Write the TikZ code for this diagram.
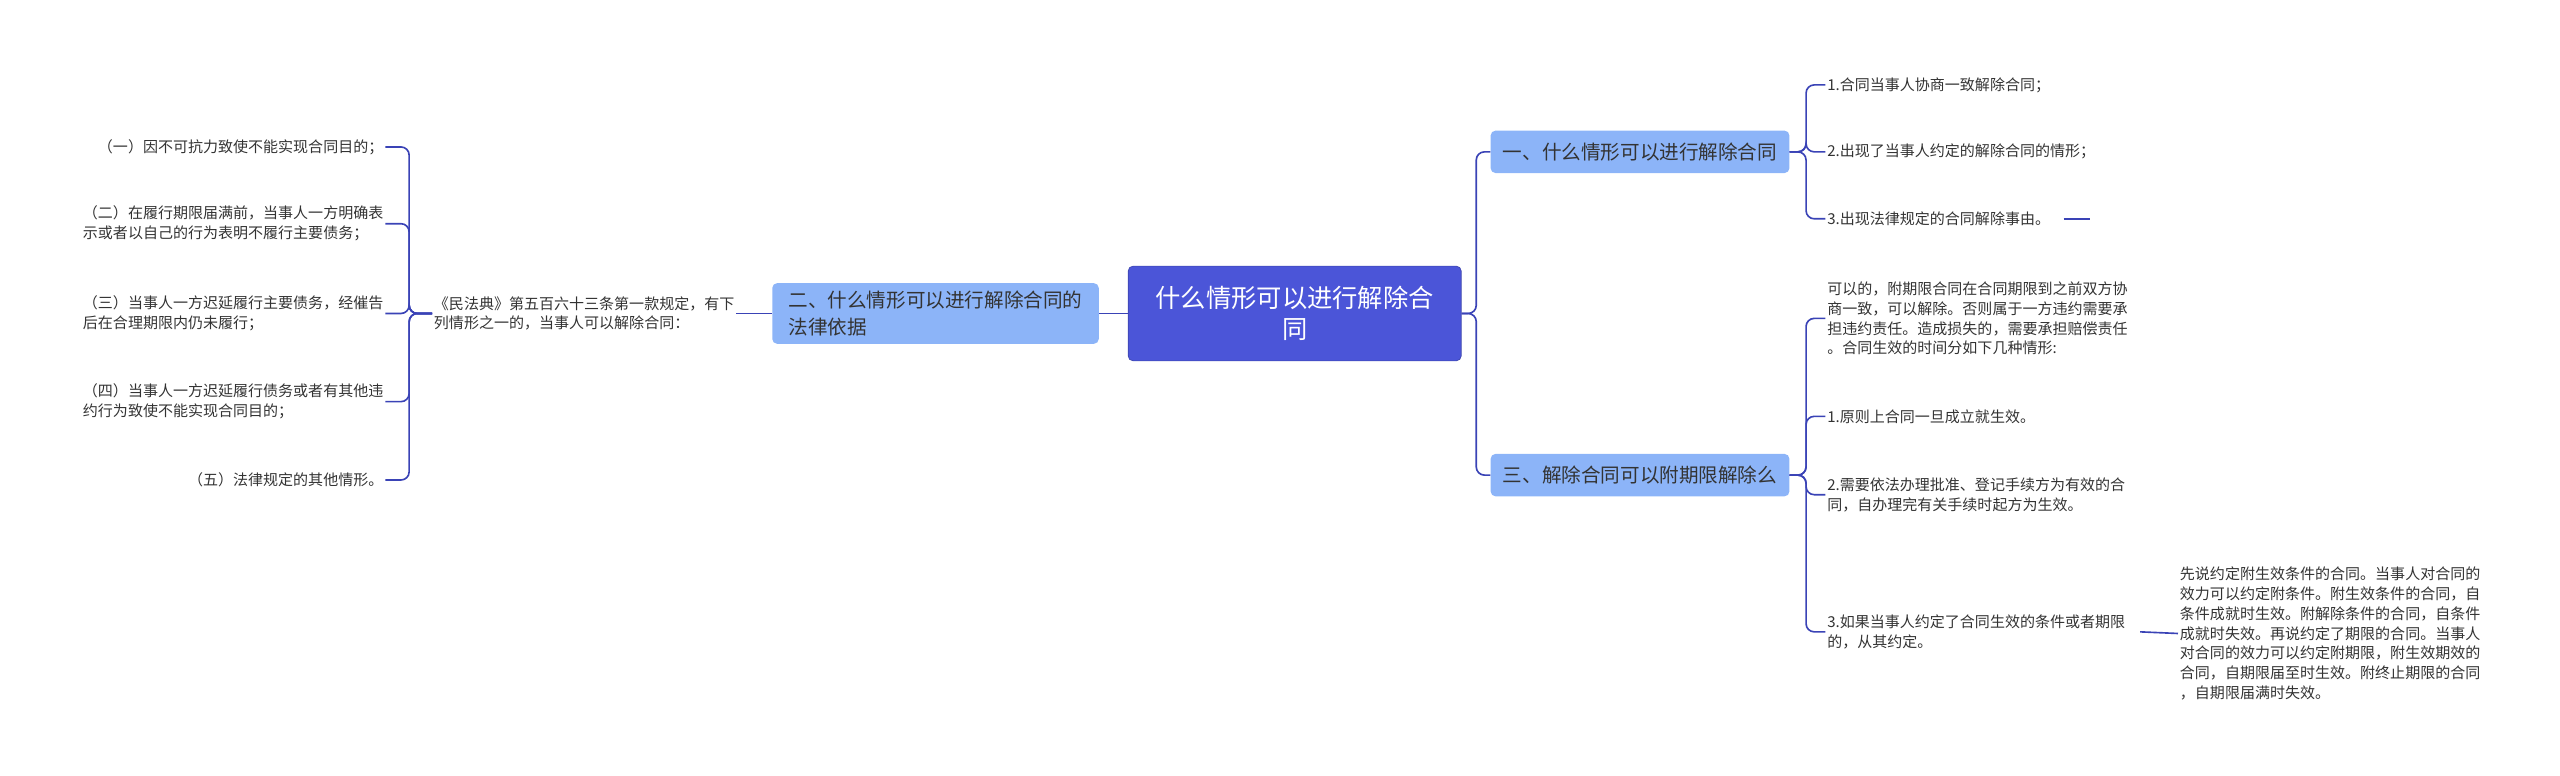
\documentclass[tikz,border=0pt]{standalone}
\usepackage{fontspec}
\setmainfont{Noto Sans CJK SC}
\usepackage{xcolor}
\definecolor{rootc}{HTML}{4B55D8}
\definecolor{branchc}{HTML}{8CB4F8}
\definecolor{linec}{HTML}{3A43B6}
\definecolor{textc}{HTML}{333333}
\tikzset{
  rootbox/.style={fill=rootc, draw=rootc!80!black, rounded corners=3pt, text=white, font=\fontsize{15.5}{19}\selectfont, align=center, minimum width=204pt, minimum height=58pt, inner sep=2pt},
  branchbox/.style={fill=branchc, rounded corners=3pt, text=textc, font=\fontsize{12}{16}\selectfont, align=left, minimum height=26pt, inner sep=5pt},
  leaf/.style={text=textc, font=\fontsize{9.2}{12.2}\selectfont, align=left, inner sep=1pt},
  edge/.style={draw=linec, line width=1pt, rounded corners=5pt}
}
\begin{document}
\begin{tikzpicture}[x=1pt,y=-1pt]
                \useasboundingbox (0,0) rectangle (1568,475);
                \node [rootbox] (root) at (793,192) {什么情形可以进行解除合\\同};
                \node [branchbox, minimum width=183pt] (b1) at (1004.5,93) {一、什么情形可以进行解除合同};
                \node [branchbox, minimum width=200pt] (b2) at (573,192) {二、什么情形可以进行解除合同的\\法律依据};
                \node [branchbox, minimum width=183pt] (b3) at (1004.5,291) {三、解除合同可以附期限解除么};
                % right branch one
                \node [leaf, anchor=west] (r11) at (1118,52) {1.合同当事人协商一致解除合同；};
                \node [leaf, anchor=west] (r12) at (1118,93) {2.出现了当事人约定的解除合同的情形；};
                \node [leaf, anchor=west] (r13) at (1118,134) {3.出现法律规定的合同解除事由。};
                \coordinate (r13a) at (1264,134);
                \coordinate (r13b) at (1280,134);
                % left branch two
                \node [leaf, anchor=east] (l0) at (451,192) {《民法典》第五百六十三条第一款规定，有下\\列情形之一的，当事人可以解除合同：};
                \node [leaf, anchor=east] (l1) at (236,90) {（一）因不可抗力致使不能实现合同目的；};
                \node [leaf, anchor=east] (l2) at (236,137) {（二）在履行期限届满前，当事人一方明确表\\示或者以自己的行为表明不履行主要债务；};
                \node [leaf, anchor=east] (l3) at (236,192) {（三）当事人一方迟延履行主要债务，经催告\\后在合理期限内仍未履行；};
                \node [leaf, anchor=east] (l4) at (236,246) {（四）当事人一方迟延履行债务或者有其他违\\约行为致使不能实现合同目的；};
                \node [leaf, anchor=east] (l5) at (236,294) {（五）法律规定的其他情形。};
                % right branch three
                \node [leaf, anchor=west] (r31) at (1118,195) {可以的，附期限合同在合同期限到之前双方协\\商一致，可以解除。否则属于一方违约需要承\\担违约责任。造成损失的，需要承担赔偿责任\\。合同生效的时间分如下几种情形:};
                \node [leaf, anchor=west] (r32) at (1118,255) {1.原则上合同一旦成立就生效。};
                \node [leaf, anchor=west] (r33) at (1118,303) {2.需要依法办理批准、登记手续方为有效的合\\同，自办理完有关手续时起方为生效。};
                \node [leaf, anchor=west] (r34) at (1118,387) {3.如果当事人约定了合同生效的条件或者期限\\的，从其约定。};
                \node [leaf, anchor=west] (r35) at (1334,388) {先说约定附生效条件的合同。当事人对合同的\\效力可以约定附条件。附生效条件的合同，自\\条件成就时生效。附解除条件的合同，自条件\\成就时失效。再说约定了期限的合同。当事人\\对合同的效力可以约定附期限，附生效期效的\\合同，自期限届至时生效。附终止期限的合同\\，自期限届满时失效。};
                % connectors
                \draw [edge] (root.west) -- (b2.east);
                \foreach \b in {b1,b3} \draw [edge] (root.east) -- ++(9,0) |- (\b.west);
                \foreach \c in {r11,r12,r13} \draw [edge] (b1.east) -- ++(10,0) |- (\c.west);
                \draw [edge] (r13a) -- (r13b);
                \draw [edge] (b2.west) -- (l0.east);
                \foreach \c in {l1,l2,l3,l4,l5} \draw [edge] (l0.west) -- ++(-14,0) |- (\c.east);
                \foreach \c in {r31,r32,r33,r34} \draw [edge] (b3.east) -- ++(10,0) |- (\c.west);
                \draw [edge] (r34.east) ++(8,0) -- (r35.west);
            \end{tikzpicture}
\end{document}
